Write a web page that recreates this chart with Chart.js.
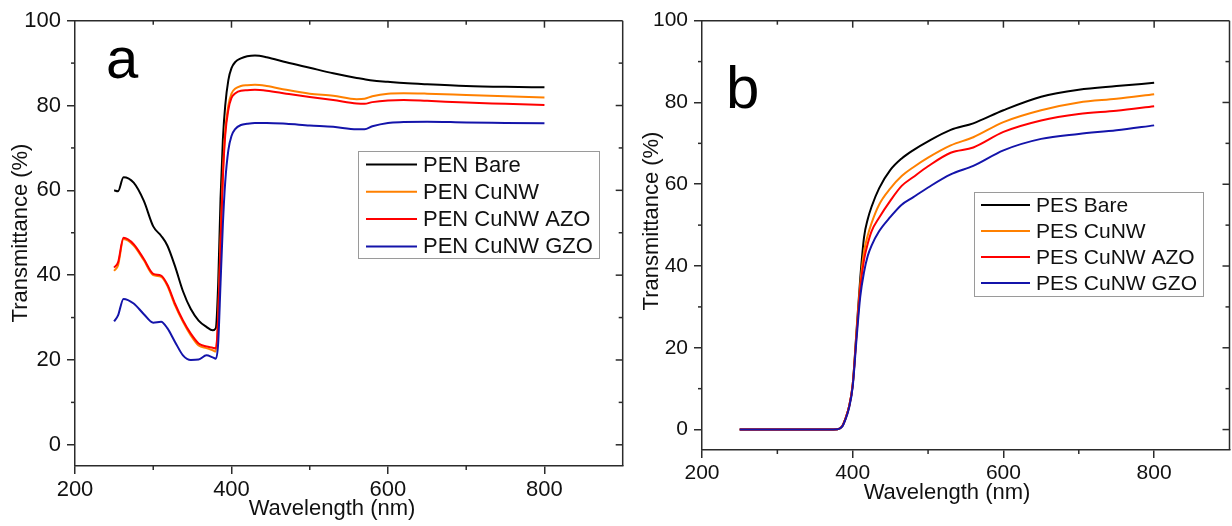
<!DOCTYPE html>
<html>
<head>
<meta charset="utf-8">
<script src="https://cdn.jsdelivr.net/npm/chart.js@4/dist/chart.umd.min.js"></script>
<style>
  html, body { margin: 0; padding: 0; background: #fff; }
  #wrap { position: relative; width: 1232px; height: 526px; }
  #left { position: absolute; left: 0; top: 0; }
  #right { position: absolute; left: 630px; top: 0; }
</style>
</head>
<body>
<div id="wrap">
  <canvas id="left" width="630" height="526"></canvas>
  <canvas id="right" width="602" height="526"></canvas>
</div>
<script>
// ---- data ----
const xTicks = [200, 400, 600, 800];
const xMinorTicks = [300, 500, 700];
const yTicks = [0, 20, 40, 60, 80, 100];
const yMinorTicks = [10, 30, 50, 70, 90];

const labelsA = ["PEN Bare", "PEN CuNW", "PEN CuNW AZO", "PEN CuNW GZO"];
const labelsB = ["PES Bare", "PES CuNW", "PES CuNW AZO", "PES CuNW GZO"];
const colors = ["#000000", "#ff8000", "#ff0000", "#1414aa"];

const wlA = [250, 255, 262, 275, 288, 300, 310, 318, 328, 338, 348, 358, 368, 376, 380, 383, 386, 389, 392, 396,
  400, 405, 412, 420, 430, 445, 470, 500, 530, 560, 570, 580, 600, 620, 650, 700, 750, 800];
const penBare = [60.0, 59.8, 63.1, 61.8, 57.5, 51.5, 49.3, 47.0, 42.0, 36.2, 32.0, 29.3, 27.8, 27.0, 27.5, 38, 58, 72, 80, 86,
  88.8, 90.3, 91.1, 91.6, 91.8, 91.4, 90.2, 88.9, 87.6, 86.5, 86.2, 85.9, 85.6, 85.3, 85.0, 84.6, 84.4, 84.3];
const penCuNW = [41.0, 42.3, 48.5, 47.0, 43.5, 40.0, 39.6, 37.5, 32.8, 29.0, 25.8, 23.4, 22.8, 22.3, 22.0, 30, 48, 64, 74, 80,
  82.8, 84.0, 84.6, 84.8, 84.9, 84.6, 83.7, 82.8, 82.3, 81.5, 81.6, 82.2, 82.8, 82.9, 82.8, 82.5, 82.2, 81.9];
const penAZO = [41.8, 43.0, 48.8, 47.3, 43.8, 40.3, 39.9, 37.8, 33.2, 29.3, 26.2, 23.9, 23.2, 22.9, 22.7, 30, 47, 63, 73, 79,
  81.8, 82.9, 83.5, 83.6, 83.7, 83.5, 82.8, 82.0, 81.3, 80.5, 80.4, 80.8, 81.2, 81.3, 81.1, 80.7, 80.4, 80.1];
const penGZO = [29.1, 30.5, 34.4, 33.3, 30.8, 28.8, 29.0, 27.5, 24.2, 21.1, 20.0, 20.1, 21.1, 20.6, 20.3, 24, 38, 52, 62, 69.5,
  72.8, 74.5, 75.4, 75.7, 75.9, 75.9, 75.7, 75.3, 75.0, 74.4, 74.4, 75.1, 75.9, 76.1, 76.2, 76.0, 75.9, 75.8];

const wlB = [250, 300, 350, 380, 386, 390, 395, 400, 405, 410, 415, 420, 425, 435, 450, 465, 480, 500, 530, 560, 600, 650, 700, 750, 800];
const pesBare = [0, 0, 0, 0.1, 0.8, 2.5, 5.5, 11, 24, 37, 47, 51.5, 54.5, 59, 63.5, 66.3, 68.3, 70.5, 73.3, 74.9, 78.1, 81.4, 83.1, 84.0, 84.8];
const pesCuNW = [0, 0, 0, 0.1, 0.8, 2.5, 5.5, 11, 23.5, 35.5, 43.5, 47.5, 50.5, 55, 59, 62, 64.1, 66.5, 69.5, 71.5, 75.2, 78.1, 80.0, 80.9, 82.0];
const pesAZO = [0, 0, 0, 0.1, 0.8, 2.5, 5.5, 11, 23, 34.5, 41.5, 45.5, 48.5, 51.8, 56, 59.6, 61.7, 64.4, 67.7, 69.0, 72.8, 75.6, 77.2, 78.0, 79.1];
const pesGZO = [0, 0, 0, 0.1, 0.7, 2.3, 5.2, 10.5, 22, 32.5, 38.5, 42.5, 45, 48.5, 52, 55, 56.8, 59.2, 62.4, 64.5, 68.3, 71.1, 72.3, 73.2, 74.4];

// ---- styling ----
const FONT = "'Liberation Sans', Arial, sans-serif";
const AXIS = "#2b2b2b";
const TEXT = "#111";

function toPoints(xs, ys) {
  return xs.map((x, i) => ({ x: x, y: ys[i] }));
}

// later series are painted on top, like the original plot
function makeDatasets(labels, xs, series) {
  return series.map((ys, i) => ({
    label: labels[i],
    data: toPoints(xs, ys),
    borderColor: colors[i],
    backgroundColor: colors[i],
    borderWidth: 2,
    pointRadius: 0,
    cubicInterpolationMode: "monotone",
    fill: false,
    order: series.length - i
  }));
}

function line(ctx, x1, y1, x2, y2) {
  ctx.beginPath();
  ctx.moveTo(x1, y1);
  ctx.lineTo(x2, y2);
  ctx.stroke();
}

// frame, minor ticks, titles, panel letter and legend box
const decor = {
  id: "decor",
  afterDraw(chart, args, o) {
    const { ctx, chartArea: a, scales } = chart;
    const x = scales.x, y = scales.y;
    ctx.save();
    ctx.strokeStyle = AXIS;
    ctx.lineWidth = 1.5;
    line(ctx, a.left, a.top, a.right, a.top);
    line(ctx, a.right, a.top, a.right, a.bottom);

    xMinorTicks.forEach(v => {
      const px = x.getPixelForValue(v);
      line(ctx, px, a.bottom, px, a.bottom + 4);
      line(ctx, px, a.top, px, a.top + 4);
    });
    xTicks.forEach(v => {
      const px = x.getPixelForValue(v);
      if (px > a.left + 1) line(ctx, px, a.top, px, a.top + 7);
    });
    yMinorTicks.forEach(v => {
      const py = y.getPixelForValue(v);
      line(ctx, a.left - 4, py, a.left, py);
      line(ctx, a.right - 4, py, a.right, py);
    });
    yTicks.forEach(v => {
      const py = y.getPixelForValue(v);
      if (py > a.top + 1) line(ctx, a.right - 7, py, a.right, py);
    });

    // axis titles
    ctx.fillStyle = TEXT;
    ctx.font = "22px " + FONT;
    ctx.textAlign = "center";
    ctx.textBaseline = "middle";
    ctx.fillText("Wavelength (nm)", o.xTitle[0], o.xTitle[1]);
    ctx.save();
    ctx.translate(o.yTitle[0], o.yTitle[1]);
    ctx.rotate(-Math.PI / 2);
    ctx.fillText("Transmittance (%)", 0, 0);
    ctx.restore();

    // panel letter
    ctx.textAlign = "left";
    ctx.textBaseline = "alphabetic";
    ctx.font = o.letterSize + "px " + FONT;
    ctx.fillStyle = "#000";
    ctx.fillText(o.letter, o.letterPos[0], o.letterPos[1]);

    // legend
    const L = o.legend;
    ctx.fillStyle = "#fff";
    ctx.fillRect(L.x, L.y, L.w, L.h);
    ctx.strokeStyle = "#9a9a9a";
    ctx.lineWidth = 1;
    ctx.strokeRect(L.x + 0.5, L.y + 0.5, L.w, L.h);
    ctx.font = L.font + "px " + FONT;
    ctx.textBaseline = "middle";
    chart.data.datasets.forEach((ds, i) => {
      const ry = L.y + L.first + i * L.step;
      ctx.strokeStyle = ds.borderColor;
      ctx.lineWidth = 2;
      line(ctx, L.lineX, ry, L.lineX + L.lineW, ry);
      ctx.fillStyle = TEXT;
      ctx.fillText(ds.label, L.textX, ry + 1);
    });
    ctx.restore();
  }
};

function makeChart(id, datasets, yAxisWidth, xAxisHeight, padRight, tickSize, decorOpts) {
  return new Chart(document.getElementById(id), {
    type: "line",
    data: { datasets: datasets },
    plugins: [decor],
    options: {
      responsive: false,
      animation: false,
      devicePixelRatio: 1,
      layout: { padding: { left: 0, top: 20.7, right: padRight, bottom: 0 } },
      plugins: {
        legend: { display: false },
        tooltip: { enabled: false },
        decor: decorOpts
      },
      scales: {
        x: {
          type: "linear",
          min: 200,
          max: 900,
          afterBuildTicks: s => { s.ticks = xTicks.map(v => ({ value: v })); },
          afterFit: s => { s.height = xAxisHeight; s.paddingLeft = 0; s.paddingRight = 0; },
          grid: { drawOnChartArea: false, drawTicks: true, tickLength: 8, color: AXIS, lineWidth: 1.5 },
          border: { display: true, color: AXIS, width: 1.5 },
          ticks: { color: TEXT, padding: 3, maxRotation: 0, font: { family: FONT, size: tickSize } }
        },
        y: {
          type: "linear",
          min: -5,
          max: 100,
          afterBuildTicks: s => { s.ticks = yTicks.map(v => ({ value: v })); },
          afterFit: s => { s.width = yAxisWidth; s.paddingTop = 0; s.paddingBottom = 0; },
          grid: { drawOnChartArea: false, drawTicks: true, tickLength: 8, color: AXIS, lineWidth: 1.5 },
          border: { display: true, color: AXIS, width: 1.5 },
          ticks: { color: TEXT, padding: 6, font: { family: FONT, size: tickSize } }
        }
      }
    }
  });
}

makeChart("left", makeDatasets(labelsA, wlA, [penBare, penCuNW, penAZO, penGZO]), 75, 60, 7.3, 22, {
  letter: "a", letterSize: 58, letterPos: [106, 78],
  xTitle: [332, 509], yTitle: [21, 233],
  legend: { x: 358, y: 151, w: 241, h: 107, first: 13.5, step: 27.3, lineX: 366, lineW: 51, textX: 423, font: 22 }
});

makeChart("right", makeDatasets(labelsB, wlB, [pesBare, pesCuNW, pesAZO, pesGZO]), 72, 76, 2.5, 21, {
  letter: "b", letterSize: 60, letterPos: [96, 108],
  xTitle: [317, 493], yTitle: [22, 221],
  legend: { x: 344, y: 192, w: 229, h: 104, first: 13, step: 26, lineX: 351, lineW: 49, textX: 406, font: 21 }
});
</script>
</body>
</html>
